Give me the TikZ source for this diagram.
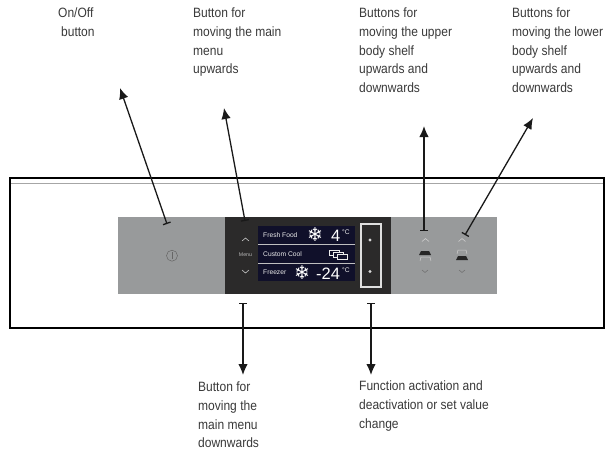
\documentclass[tikz,border=0pt]{standalone}
\usepackage{fontspec}
\setmainfont{Liberation Sans}[FakeStretch=0.89]
\newfontfamily\uifont{Liberation Sans}
\newfontfamily\symfont{DejaVu Sans}
\usetikzlibrary{arrows.meta}
\definecolor{panelgray}{HTML}{989A9B}
\definecolor{paneldark}{HTML}{2B2A2A}
\definecolor{screenblue}{HTML}{10102A}
\definecolor{lab}{HTML}{3A3A3A}
\tikzset{
 x=1pt,y=-1pt,
 lbl/.style={anchor=north west,inner sep=0pt,font=\fontsize{13.5}{18.6}\selectfont,text=lab,align=left},
 scr/.style={inner sep=0pt,text=white!85!gray,font=\uifont\fontsize{6.7}{7}\selectfont},
 scrbig/.style={inner sep=0pt,text=white,font=\uifont\fontsize{16.5}{16}\selectfont},
 snow/.style={inner sep=0pt,text=white,font=\symfont\fontsize{19}{19}\selectfont},
 callout/.style={draw=black!90,line width=1.3pt,{Bar[width=8pt,length=1pt]}-{Latex[length=11pt,width=9.5pt]}},
 chev/.style={draw=#1,line width=.6pt},
}
\begin{document}
\begin{tikzpicture}
\useasboundingbox (0,0) rectangle (611,456);
\fill[white] (0,0) rectangle (611,456);
% frame
\draw[black!35,line width=.6pt] (10,183) -- (604,183);
\node[draw=black,line width=1.5pt,minimum width=594pt,minimum height=150pt,inner sep=0pt] (frame) at (307,253) {};
% panel
\node[fill=panelgray,minimum width=379pt,minimum height=77pt,inner sep=0pt] (panel) at (307.5,255.5) {};
\node[fill=paneldark,minimum width=166pt,minimum height=77pt,inner sep=0pt] (dark) at (308,255.5) {};
\node[fill=screenblue,minimum width=97pt,minimum height=55pt,inner sep=0pt] (screen) at (306.5,253.5) {};
\draw[white!75!black,line width=.5pt] (258,244) -- (355,244) (258,263) -- (355,263);
\node[draw=white!75!gray,line width=1.3pt,minimum width=20pt,minimum height=63pt,inner sep=0pt] (okbox) at (371,255.5) {};
\fill[white!70!gray] (370,240) circle (1.7pt) (370,271.5) circle (1.7pt);
% left buttons
\draw[chev=white!55!gray] (242,241) -- (245.5,238) -- (249,241);
\node[inner sep=0pt,text=white!45!gray,font=\uifont\fontsize{5.2}{5}\selectfont] (menu) at (245.5,255) {Menu};
\draw[chev=white!55!gray] (242,270) -- (245.5,273) -- (249,270);
% screen text
\node[scr,anchor=west] (t1) at (263,235) {Fresh Food};
\node[scr,anchor=west] (t2) at (263,254) {Custom Cool};
\node[scr,anchor=west] (t3) at (263,272) {Freezer};
\node[snow] (s1) at (315,235) {❄};
\node[snow] (s2) at (302,273) {❄};
\node[scrbig,anchor=west] (v1) at (331,236) {4};
\node[scr,anchor=west] (u1) at (342,232) {°C};
\node[scrbig,anchor=west] (v2) at (316,274) {-24};
\node[scr,anchor=west] (u2) at (342,270) {°C};
\draw[white!85!gray,line width=.5pt,fill=screenblue] (329,250) rectangle (339,255);
\draw[white!85!gray,line width=.5pt,fill=screenblue] (333,252) rectangle (343,257);
\draw[white!85!gray,line width=.5pt,fill=screenblue] (337,254) rectangle (347,259);
% on off
\draw[black!60,line width=.5pt] (172,255.7) circle (5.5pt);
\draw[black!60,line width=.6pt] (172,252) -- (172,259);
% right buttons
\draw[chev=white!60!gray] (422,241.5) -- (425.5,238.5) -- (429,241.5);
\fill[black!85] (421,251) -- (429,251) -- (431,255) -- (419,255) -- cycle;
\draw[white!60!gray,line width=.5pt] (420,261) -- (421,257) -- (430,257) -- (431,261);
\draw[chev=black!55] (422,270) -- (425,272.5) -- (428,270);
\draw[chev=white!60!gray] (458.5,241.5) -- (462,238.5) -- (465.5,241.5);
\draw[white!60!gray,line width=.5pt] (457,254) -- (458,250) -- (466,250) -- (467,254);
\fill[black!85] (458,256) -- (466,256) -- (468,260) -- (456,260) -- cycle;
\draw[chev=black!55] (459,270) -- (462,272.5) -- (465,270);
% callouts
\coordinate (a1s) at (167,224); \coordinate (a1e) at (120,88);
\coordinate (a2s) at (245,221); \coordinate (a2e) at (224,108);
\coordinate (a3s) at (424,231); \coordinate (a3e) at (424,126);
\coordinate (a4s) at (465,235); \coordinate (a4e) at (533,118);
\coordinate (a5s) at (243,303); \coordinate (a5e) at (243,375);
\coordinate (a6s) at (371,303); \coordinate (a6e) at (371,375);
\draw[callout] (a1s) -- (a1e);
\draw[callout] (a2s) -- (a2e);
\draw[callout] (a3s) -- (a3e);
\draw[callout] (a4s) -- (a4e);
\draw[callout] (a5s) -- (a5e);
\draw[callout] (a6s) -- (a6e);
% labels
\node[lbl] (l1) at (58,8) {On/Off\\\hspace*{3pt}button};
\node[lbl] (l2) at (193,8) {Button for\\moving the main\\menu\\upwards};
\node[lbl] (l3) at (359,8) {Buttons for\\moving the upper\\body shelf\\upwards and\\downwards};
\node[lbl] (l4) at (512,8) {Buttons for\\moving the lower\\body shelf\\upwards and\\downwards};
\node[lbl] (l5) at (198,382) {Button for\\moving the\\main menu\\downwards};
\node[lbl] (l6) at (359,381) {Function activation and\\deactivation or set value\\change};
\end{tikzpicture}
\end{document}
